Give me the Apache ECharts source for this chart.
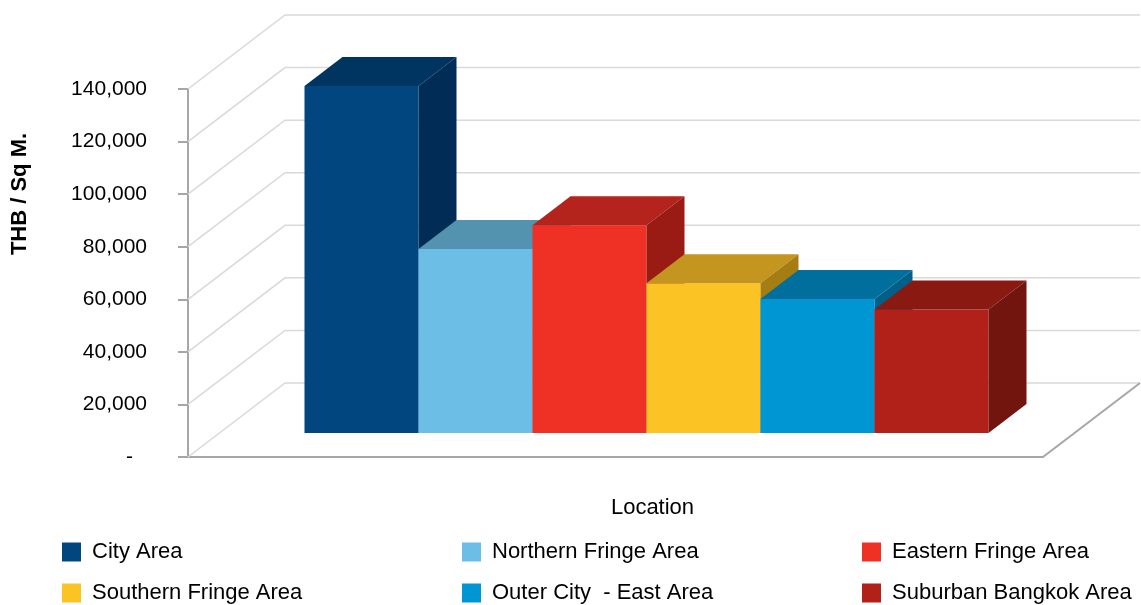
<!DOCTYPE html>
<html>
<head>
<meta charset="utf-8">
<script src="https://cdn.jsdelivr.net/npm/echarts@6/dist/echarts.min.js"></script>
<style>
html,body{margin:0;padding:0;background:#fff;}
#chart{width:1141px;height:605px;}
</style>
</head>
<body>
<div id="chart"></div>
<script>
// ---- data ----
const categories = ['Location'];
const seriesNames = ['City Area', 'Northern Fringe Area', 'Eastern Fringe Area',
                     'Southern Fringe Area', 'Outer City  - East Area', 'Suburban Bangkok Area'];
const seriesValues = [132000, 70000, 79000, 57000, 51000, 47000];
const tickValues = [0, 20000, 40000, 60000, 80000, 100000, 120000, 140000];
const yAxisTitle = 'THB / Sq M.';
const xAxisTitle = 'Location';

// ---- styles ----
const frontColors = ['#02467F', '#6CBEE6', '#EE3124', '#FCC325', '#0096D3', '#B12119'];
const topColors   = ['#003461', '#5493AF', '#B5231D', '#C4951F', '#006F9E', '#8A1912'];
const sideColors  = ['#012C55', '#4A86A0', '#9A1B14', '#A67D12', '#00608A', '#73150F'];

const WALL_DX = 97, WALL_DY = -74;     // depth of the whole floor
const BAR_SX = 31, BAR_SY = -24;       // bar front plane offset
const BAR_DX = 38, BAR_DY = -29;       // bar depth
const N = seriesNames.length;
const FONT = 'Liberation Sans, Arial, sans-serif';
const LEGEND_LEFT = [62, 462, 862];
const LEGEND_TOP = [541, 582];

const chart = echarts.init(document.getElementById('chart'), null, {renderer: 'canvas'});

function barRenderer(i) {
  return function (params, api) {
    const cat = api.value(0), val = api.value(1);
    const base = api.coord([cat, 0]);
    const topP = api.coord([cat, val]);
    const band = api.size([1, 0])[0];
    const groupW = band * 0.8;
    const bw = groupW / N;
    const x0 = base[0] - groupW / 2 + i * bw + BAR_SX;
    const x1 = x0 + bw;
    const yb = base[1] + BAR_SY;
    const yt = topP[1] + BAR_SY;
    return {
      type: 'group',
      children: [
        {type: 'rect', shape: {x: x0, y: yt, width: bw, height: yb - yt},
         style: {fill: frontColors[i]}},
        {type: 'polygon', shape: {points: [[x0, yt], [x1, yt], [x1 + BAR_DX, yt + BAR_DY], [x0 + BAR_DX, yt + BAR_DY]]},
         style: {fill: topColors[i]}},
        {type: 'polygon', shape: {points: [[x1, yt], [x1 + BAR_DX, yt + BAR_DY], [x1 + BAR_DX, yb + BAR_DY], [x1, yb]]},
         style: {fill: sideColors[i]}}
      ]
    };
  };
}

function wallRenderer(params, api) {
  const v = api.value(1);
  const p = api.coord([0, v]);
  const cs = params.coordSys;
  const x0 = cs.x, w = cs.width, y = p[1];
  const children = [{
    type: 'polyline',
    shape: {points: [[x0, y], [x0 + WALL_DX, y + WALL_DY], [x0 + WALL_DX + w, y + WALL_DY]]},
    style: {stroke: '#D9D9D9', lineWidth: 1.5, fill: null}
  }];
  if (v === 0) {
    children.push({
      type: 'line',
      shape: {x1: x0 + w, y1: y, x2: x0 + w + WALL_DX, y2: y + WALL_DY},
      style: {stroke: '#A6A6A6', lineWidth: 2}
    });
  }
  return {type: 'group', children: children};
}

const series = [{
  type: 'custom',
  name: '_wall',
  silent: true,
  z: 1,
  renderItem: wallRenderer,
  data: tickValues.map(v => [0, v])
}];
seriesNames.forEach((name, i) => {
  series.push({
    type: 'custom',
    name: name,
    z: 3,
    itemStyle: {color: frontColors[i]},
    renderItem: barRenderer(i),
    data: [[0, seriesValues[i]]]
  });
});

const legends = seriesNames.map((name, i) => ({
  orient: 'horizontal',
  left: LEGEND_LEFT[i % 3],
  top: LEGEND_TOP[Math.floor(i / 3)],
  padding: 0,
  itemWidth: 19,
  itemHeight: 19,
  icon: 'rect',
  textStyle: {fontFamily: FONT, fontSize: 22, color: '#000', padding: [0, 0, 0, 6]},
  data: [name]
}));

const option = {
  animation: false,
  backgroundColor: '#fff',
  grid: {left: 188, right: 98, top: 89, bottom: 148},
  xAxis: {
    type: 'category',
    data: categories,
    axisLine: {show: true, lineStyle: {color: '#A6A6A6', width: 2}},
    axisTick: {show: false},
    axisLabel: {show: false},
    splitLine: {show: false},
    name: xAxisTitle,
    nameLocation: 'middle',
    nameGap: 40,
    nameTextStyle: {fontFamily: FONT, fontSize: 22, color: '#000', padding: [0, 0, 0, 74]}
  },
  yAxis: {
    type: 'value',
    min: 0,
    max: 140000,
    interval: 20000,
    axisLine: {show: true, lineStyle: {color: '#A6A6A6', width: 2}},
    axisTick: {show: true, length: 10, lineStyle: {color: '#A6A6A6', width: 2}},
    splitLine: {show: false},
    axisLabel: {
      margin: 41,
      fontFamily: FONT,
      fontSize: 21,
      color: '#000',
      formatter: function (v) {
        return v === 0 ? '{z|-}' : v.toLocaleString('en-US');
      },
      rich: {z: {fontFamily: FONT, fontSize: 21, color: '#000', padding: [0, 14, 0, 0]}}
    }
  },
  legend: legends,
  graphic: [{
    type: 'text',
    x: 20,
    y: 194,
    rotation: Math.PI / 2,
    style: {
      text: yAxisTitle,
      fontFamily: FONT,
      fontSize: 22,
      fontWeight: 'bold',
      fill: '#000',
      align: 'center',
      verticalAlign: 'middle'
    }
  }],
  series: series
};

chart.setOption(option);
</script>
</body>
</html>
